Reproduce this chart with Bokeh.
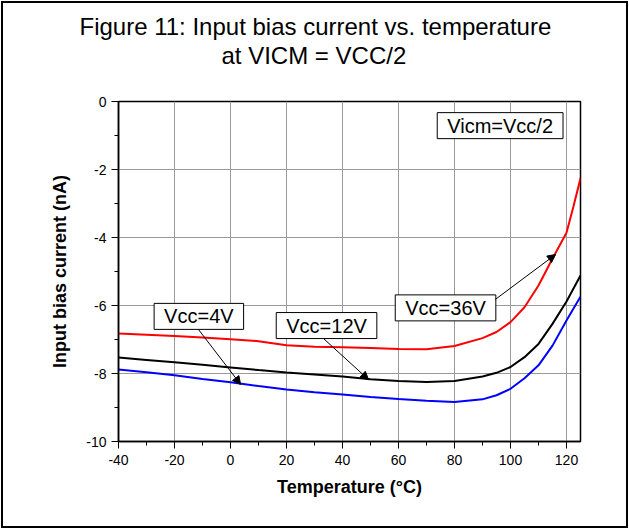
from bokeh.plotting import figure
from bokeh.models import Range1d, FixedTicker, Label, Arrow, NormalHead, Title, InlineStyleSheet
from bokeh.embed import file_html
from bokeh.resources import INLINE

# ---- data ----
temps = [-40, -30, -20, -10, 0, 10, 20, 30, 40, 50, 60, 70, 80, 90, 95, 100, 105, 110, 115, 120, 122.5, 125]
ib_vcc36 = [-6.82, -6.86, -6.90, -6.94, -6.99, -7.05, -7.17, -7.21, -7.23, -7.25, -7.28, -7.29, -7.19,
            -6.96, -6.78, -6.49, -6.05, -5.41, -4.62, -3.86, -3.08, -2.26]
ib_vcc12 = [-7.53, -7.60, -7.67, -7.74, -7.82, -7.90, -7.97, -8.03, -8.09, -8.17, -8.22, -8.25, -8.22,
            -8.09, -7.98, -7.81, -7.52, -7.13, -6.54, -5.88, -5.50, -5.12]
ib_vcc4 = [-7.88, -7.96, -8.05, -8.16, -8.26, -8.37, -8.47, -8.55, -8.62, -8.69, -8.75, -8.80, -8.84,
           -8.76, -8.64, -8.45, -8.14, -7.76, -7.18, -6.44, -6.09, -5.74]

x_ticks = [-40, -20, 0, 20, 40, 60, 80, 100, 120]
x_tick_labels = ["-40", "-20", "0", "20", "40", "60", "80", "100", "120"]
x_minor = [-30, -10, 10, 30, 50, 70, 90, 110]
y_ticks = [-10, -8, -6, -4, -2, 0]
y_tick_labels = ["-10", "-8", "-6", "-4", "-2", "0"]
y_minor = [-9, -7, -5, -3, -1]

title_line1 = "Figure 11: Input bias current vs. temperature"
title_line2 = "at VICM = VCC/2"
x_label = "Temperature (°C)"
y_label = "Input bias current (nA)"
box_note = "Vicm=Vcc/2"
series_names = ["Vcc=4V", "Vcc=12V", "Vcc=36V"]

FONT = "Liberation Sans"

p = figure(width=629, height=529, output_backend="svg", toolbar_location=None,
           x_range=Range1d(-40, 125), y_range=Range1d(-10, 0),
           min_border_left=118, min_border_right=49, min_border_top=101, min_border_bottom=88)

# outer frame of the whole figure, drawn over the canvas
p.stylesheets = [InlineStyleSheet(css=(
    ":host { position: relative; }\n"
    ":host::after { content: ''; position: absolute; left: 1px; top: 1px; right: 1px; bottom: 1px;"
    " border: 2px solid black; pointer-events: none; z-index: 1000; }"))]

p.outline_line_color = "black"
p.outline_line_width = 1.5
p.background_fill_color = "white"
p.border_fill_color = "white"

# titles: the first added sits closest to the plot
spacer = Title(text=" ", text_font_size="10px", standoff=20, text_color="white")
t2 = Title(text=title_line2, align="left", offset=103, text_font_size="24px",
           text_font=FONT, text_font_style="normal", text_color="black", standoff=0)
t1 = Title(text=title_line1, align="left", offset=-39, text_font_size="24px",
           text_font=FONT, text_font_style="normal", text_color="black", standoff=0)
p.add_layout(spacer, "above")
p.add_layout(t2, "above")
p.add_layout(t1, "above")

# axes
p.xaxis.ticker = FixedTicker(ticks=x_ticks, minor_ticks=x_minor)
p.yaxis.ticker = FixedTicker(ticks=y_ticks, minor_ticks=y_minor)
p.xaxis.major_label_overrides = {t: l for t, l in zip(x_ticks, x_tick_labels)}
p.yaxis.major_label_overrides = {t: l for t, l in zip(y_ticks, y_tick_labels)}
for ax in (p.xaxis, p.yaxis):
    ax.axis_line_color = "black"
    ax.axis_line_width = 1.5
    ax.major_tick_line_color = "black"
    ax.minor_tick_line_color = "black"
    ax.major_tick_out = 7
    ax.major_tick_in = 0
    ax.minor_tick_out = 4
    ax.minor_tick_in = 0
    ax.major_label_text_font = FONT
    ax.major_label_text_font_size = "14px"
    ax.major_label_text_color = "black"
    ax.axis_label_text_font = FONT
    ax.axis_label_text_font_size = "18px"
    ax.axis_label_text_font_style = "bold"
    ax.axis_label_text_color = "black"
p.xaxis.axis_label = x_label
p.yaxis.axis_label = y_label
p.xaxis.major_label_standoff = 6
p.yaxis.major_label_standoff = 5
p.xaxis.axis_label_standoff = 9
p.yaxis.axis_label_standoff = 13

p.xgrid.ticker = FixedTicker(ticks=x_ticks)
p.ygrid.ticker = FixedTicker(ticks=y_ticks)
p.xgrid.grid_line_color = "#9a9a9a"
p.ygrid.grid_line_color = "#9a9a9a"
p.xgrid.grid_line_width = 1
p.ygrid.grid_line_width = 1

# curves
p.line(temps, ib_vcc36, line_color="#ff0000", line_width=2)
p.line(temps, ib_vcc12, line_color="black", line_width=2)
p.line(temps, ib_vcc4, line_color="#0000ff", line_width=2)

# annotation boxes
def box(text, x, y):
    p.add_layout(Label(x=x, y=y, text=text, text_align="center", text_baseline="middle",
                       text_font=FONT, text_font_size="20px", text_color="black",
                       background_fill_color="white", border_line_color="black", border_line_width=1,
                       padding=(10, 10, 2, 2)))

box(box_note, 96.3, -0.71)
box(series_names[0], -11.3, -6.32)
box(series_names[1], 34.3, -6.59)
box(series_names[2], 76.8, -6.07)

# arrows
def arrow(xs, ys, xe, ye):
    p.add_layout(Arrow(end=NormalHead(size=8, fill_color="black", line_color="black", line_width=1),
                       x_start=xs, y_start=ys, x_end=xe, y_end=ye,
                       line_color="black", line_width=1))

arrow(-11.4, -6.71, 3.6, -8.32)
arrow(33.2, -6.97, 49.3, -8.18)
arrow(94.6, -5.82, 116.1, -4.50)

open("out.html", "w").write(file_html(p, INLINE))
